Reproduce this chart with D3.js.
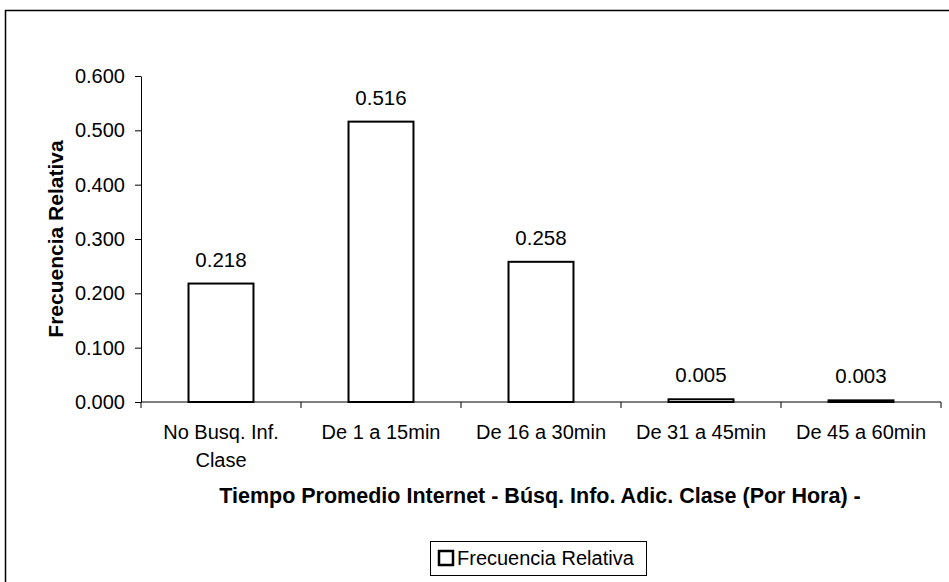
<!DOCTYPE html>
<html>
<head>
<meta charset="utf-8">
<script src="https://cdn.jsdelivr.net/npm/d3@7"></script>
<style>
  body { margin: 0; background: #fff; }
  text { font-family: "Liberation Sans", Arial, sans-serif; }
</style>
</head>
<body>
<div id="chart"></div>
<script>
const width = 949;
const height = 582;

const categories = ['No Busq. Inf. Clase', 'De 1 a 15min', 'De 16 a 30min', 'De 31 a 45min', 'De 45 a 60min'];
const values = [0.218, 0.516, 0.258, 0.005, 0.003];
const yTicks = [0, 0.1, 0.2, 0.3, 0.4, 0.5, 0.6];

const margin = { left: 141, right: 8, top: 76, bottom: 180 };
const plotW = width - margin.left - margin.right;
const plotH = height - margin.top - margin.bottom;
const font = '"Liberation Sans", Arial, sans-serif';

const svg = d3.select('#chart')
  .append('svg')
  .attr('width', width)
  .attr('height', height);

// outer frame
svg.append('rect')
  .attr('x', 5.5)
  .attr('y', 10.5)
  .attr('width', width + 10)
  .attr('height', height + 10)
  .attr('fill', 'none')
  .attr('stroke', '#000')
  .attr('stroke-width', 1.5);

const g = svg.append('g')
  .attr('transform', `translate(${margin.left},${margin.top})`);

const x = d3.scaleBand()
  .domain(categories)
  .range([0, plotW])
  .paddingInner(0.594)
  .paddingOuter(0.297);

const xTick = d3.scaleBand().domain(categories).range([0, plotW]);

const y = d3.scaleLinear().domain([0, 0.6]).range([plotH, 0]);

// y axis
const yAxis = d3.axisLeft(y)
  .tickValues(yTicks)
  .tickFormat(d3.format('.3f'))
  .tickSize(6)
  .tickSizeOuter(0);

g.append('g')
  .call(yAxis)
  .call(a => a.select('.domain').attr('stroke', '#000'))
  .call(a => a.selectAll('.tick line').attr('stroke', '#000'))
  .call(a => a.selectAll('.tick text')
    .attr('x', -16)
    .attr('font-size', 20)
    .attr('font-family', font)
    .attr('fill', '#000'));

// bars
g.selectAll('rect.bar')
  .data(values)
  .enter()
  .append('rect')
  .attr('class', 'bar')
  .attr('x', (d, i) => x(categories[i]))
  .attr('y', d => y(d))
  .attr('width', x.bandwidth())
  .attr('height', d => plotH - y(d))
  .attr('fill', '#fff')
  .attr('stroke', '#000')
  .attr('stroke-width', 2);

// x axis
const xAxisG = g.append('g').attr('transform', `translate(0,${plotH})`);
xAxisG.append('line')
  .attr('x1', 0).attr('x2', plotW)
  .attr('stroke', '#000');
xAxisG.selectAll('line.tk')
  .data(categories.concat(['end']))
  .enter()
  .append('line')
  .attr('class', 'tk')
  .attr('x1', (d, i) => i < categories.length ? xTick(d) : plotW)
  .attr('x2', (d, i) => i < categories.length ? xTick(d) : plotW)
  .attr('y1', 0).attr('y2', 6)
  .attr('stroke', '#000');

// category labels with wrapping
const labelLines = {
  'No Busq. Inf. Clase': ['No Busq. Inf.', 'Clase']
};
categories.forEach(c => {
  const lines = labelLines[c] || [c];
  const t = xAxisG.append('text')
    .attr('text-anchor', 'middle')
    .attr('font-size', 20)
    .attr('fill', '#000')
    .attr('transform', `translate(${xTick(c) + xTick.bandwidth() / 2},37)`);
  lines.forEach((l, i) => {
    t.append('tspan').attr('x', 0).attr('dy', i === 0 ? 0 : 28).text(l);
  });
});

// value labels
g.selectAll('text.val')
  .data(values)
  .enter()
  .append('text')
  .attr('class', 'val')
  .attr('text-anchor', 'middle')
  .attr('font-size', 20.5)
  .attr('x', (d, i) => x(categories[i]) + x.bandwidth() / 2)
  .attr('y', d => y(d) - 17)
  .text(d => d3.format('.3f')(d));

// axis titles
svg.append('text')
  .attr('transform', `translate(63,${margin.top + plotH / 2}) rotate(-90)`)
  .attr('text-anchor', 'middle')
  .attr('font-size', 21)
  .attr('font-weight', 'bold')
  .text('Frecuencia Relativa');

svg.append('text')
  .attr('x', 540)
  .attr('y', 503)
  .attr('text-anchor', 'middle')
  .attr('font-size', 21.5)
  .attr('font-weight', 'bold')
  .text('Tiempo Promedio Internet - Búsq. Info. Adic. Clase (Por Hora) -');

// legend
const legend = svg.append('g').attr('transform', 'translate(430,541)');
legend.append('rect')
  .attr('x', 0.5).attr('y', 0.5)
  .attr('width', 216).attr('height', 34)
  .attr('fill', '#fff')
  .attr('stroke', '#000');
legend.append('rect')
  .attr('x', 9).attr('y', 10)
  .attr('width', 14).attr('height', 14)
  .attr('fill', '#fff')
  .attr('stroke', '#000')
  .attr('stroke-width', 2.5);
legend.append('text')
  .attr('x', 27).attr('y', 24)
  .attr('font-size', 20)
  .text('Frecuencia Relativa');
</script>
</body>
</html>
